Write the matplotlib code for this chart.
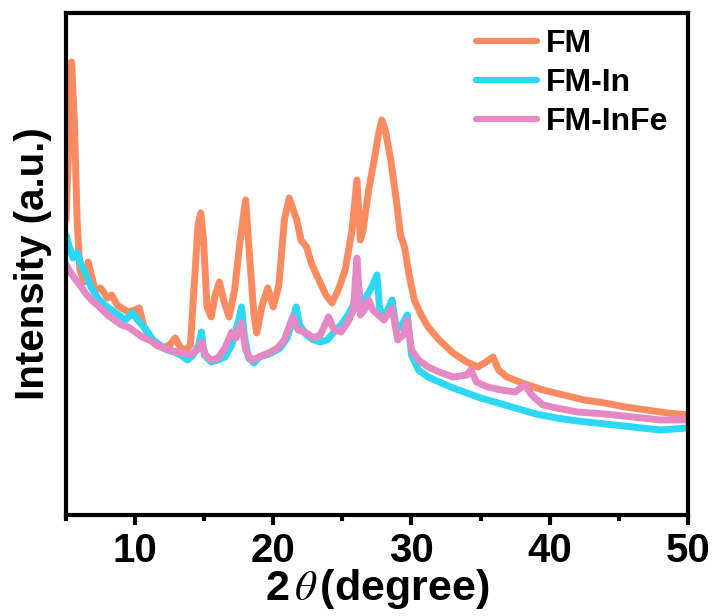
import matplotlib
matplotlib.use("Agg")
import matplotlib.pyplot as plt
from matplotlib.ticker import MultipleLocator

# ---- data (2theta, intensity a.u.) ----
fm_x = [5.0, 5.2, 5.4, 5.6, 5.8, 6.0, 6.3, 6.6, 7.1, 7.5, 8.0, 8.3, 8.7, 9.0, 9.5, 10.0, 10.3, 10.6,
        11.0, 11.5, 12.0, 12.5, 12.9, 13.3, 13.7, 14.0, 14.3, 14.55, 14.75, 14.95, 15.2, 15.5, 15.8,
        16.1, 16.4, 16.8, 17.2, 17.6, 18.0, 18.3, 18.6, 18.8, 19.2, 19.6, 20.0, 20.4, 20.8, 21.15,
        21.4, 21.7, 22.0, 22.4, 22.8, 23.3, 23.8, 24.25, 24.7, 25.2, 25.7, 26.05, 26.3, 26.5, 26.9,
        27.3, 27.6, 27.85, 28.1, 28.5, 28.9, 29.2, 29.5, 29.8, 30.2, 30.7, 31.2, 32.0, 33.0, 34.0,
        34.8, 35.4, 35.9, 36.3, 36.9, 38.0, 39.5, 41.0, 42.5, 44.0, 45.5, 47.0, 48.5, 50.0]
fm_y = [300, 380, 458, 400, 300, 250, 238, 258, 230, 232, 222, 225, 215, 212, 208, 210, 212, 195,
        183, 175, 172, 175, 182, 172, 170, 175, 240, 295, 307, 280, 213, 203, 225,
        238, 220, 203, 230, 280, 320, 260, 205, 187, 215, 232, 213, 235, 300, 322,
        312, 300, 280, 273, 255, 240, 225, 217, 230, 250, 290, 340, 280, 290, 330,
        360, 385, 400, 390, 360, 320, 285, 273, 247, 220, 205, 193, 180, 167, 158,
        153, 158, 163, 150, 143, 137, 130, 125, 120, 117, 113, 110, 107, 105]

fmin_x = [5.0, 5.2, 5.5, 5.8, 6.1, 6.4, 6.8, 7.3, 7.8, 8.3, 8.8, 9.3, 9.8, 10.3, 10.8, 11.3, 11.8,
          12.3, 12.8, 13.3, 13.8, 14.2, 14.6, 14.8, 15.0, 15.5, 16.0, 16.5, 17.0, 17.5, 17.7, 17.9,
          18.2, 18.6, 19.0, 19.5, 20.0, 20.5, 21.0, 21.4, 21.65, 21.9, 22.4, 22.9, 23.4, 23.9, 24.4,
          24.9, 25.4, 25.8, 26.1, 26.4, 26.8, 27.2, 27.5, 27.7, 28.1, 28.6, 28.9, 29.3, 29.7, 30.0,
          30.5, 31.2, 32.0, 33.0, 34.0, 35.0, 36.0, 37.0, 38.0, 39.0, 40.5, 42.0, 44.0, 46.0, 48.0, 50.0]
fmin_y = [285, 275, 262, 267, 255, 247, 233, 222, 215, 210, 205, 200, 207, 198, 190, 180, 175,
          170, 168, 165, 160, 165, 175, 188, 165, 158, 160, 163, 175, 200, 213, 185,
          162, 157, 163, 165, 168, 172, 182, 200, 213, 195, 185, 180, 178, 180, 188,
          195, 205, 215, 240, 210, 225, 235, 245, 210, 205, 220, 190, 195, 205, 165,
          150, 143, 138, 132, 127, 122, 118, 114, 110, 106, 102, 99, 96, 93, 90, 92]

fminfe_x = [5.0, 5.3, 5.7, 6.0, 6.5, 7.0, 7.5, 8.0, 8.5, 9.0, 9.5, 10.0, 10.5, 11.0, 11.5, 12.0,
            12.5, 13.0, 13.5, 14.0, 14.5, 14.8, 15.1, 15.5, 16.0, 16.5, 17.0, 17.3, 17.7, 18.0, 18.4,
            18.8, 19.3, 19.8, 20.3, 20.8, 21.4, 21.8, 22.4, 22.9, 23.4, 24.0, 24.4, 24.9, 25.4, 25.8,
            26.05, 26.3, 26.6, 26.9, 27.2, 27.6, 28.0, 28.6, 29.0, 29.4, 29.7, 30.0, 30.5, 31.2, 32.0,
            33.0, 34.0, 34.3, 34.7, 35.5, 36.5, 37.5, 38.2, 38.7, 39.5, 40.5, 42.0, 44.0, 46.0, 48.0, 50.0]
fminfe_y = [255, 248, 240, 235, 225, 218, 212, 205, 200, 195, 193, 188, 183, 180, 176, 172,
            170, 168, 167, 165, 170, 178, 165, 160, 162, 172, 188, 182, 197, 170, 160,
            162, 165, 168, 172, 180, 203, 190, 187, 182, 185, 203, 190, 188, 198, 210,
            262, 205, 210, 220, 210, 205, 200, 212, 180, 185, 200, 170, 160, 153, 148,
            143, 145, 150, 138, 133, 130, 128, 135, 125, 115, 112, 108, 106, 103, 100, 100]

labels = ["FM", "FM-In", "FM-InFe"]
colors = ["#FA8B60", "#2CD8F4", "#E589C5"]
xticks = [10, 20, 30, 40, 50]

plt.rcParams['font.family'] = ['Liberation Sans', 'DejaVu Sans']
plt.rcParams['mathtext.fontset'] = 'stix'

fig = plt.figure(figsize=(7.18, 6.16), dpi=100)
ax = fig.add_axes([0.092, 0.164, 0.866, 0.815])

for xs, ys, lab, c in zip([fm_x, fmin_x, fminfe_x], [fm_y, fmin_y, fminfe_y], labels, colors):
    ax.plot(xs, ys, color=c, lw=5, label=lab, solid_joinstyle='round', solid_capstyle='round')

ax.set_xlim(5, 50)
ax.set_ylim(5, 507)
ax.set_xticks(xticks)
ax.set_xticklabels([str(t) for t in xticks])
ax.xaxis.set_minor_locator(MultipleLocator(5))
ax.set_yticks([])
ax.tick_params(axis='x', which='major', direction='out', length=7, width=3,
               labelsize=29, pad=5)
ax.tick_params(axis='x', which='minor', direction='out', length=4, width=3)
for lab in ax.get_xticklabels():
    lab.set_fontweight('bold')
for s in ax.spines.values():
    s.set_linewidth(3)

ax.set_xlabel(r'2$\,\theta\,$(degree)', fontsize=31, fontweight='bold', labelpad=-2)
ax.set_ylabel('Intensity (a.u.)', fontsize=29, fontweight='bold', labelpad=10)

leg = ax.legend(loc='upper right', frameon=False, prop={'weight': 'bold', 'size': 23},
                handlelength=1.9, handletextpad=0.3, labelspacing=0.28,
                borderaxespad=0.1, bbox_to_anchor=(0.995, 1.0))
for h in leg.get_lines():
    h.set_linewidth(4.5)

fig.savefig('out.png', dpi=100)
